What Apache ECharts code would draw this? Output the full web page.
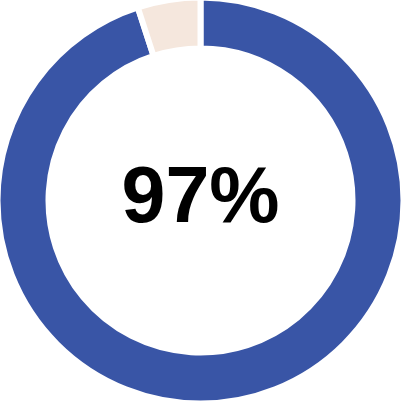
<!DOCTYPE html>
<html>
<head>
<meta charset="utf-8">
<script src="https://cdn.jsdelivr.net/npm/echarts@6/dist/echarts.min.js"></script>
<style>
html,body{margin:0;padding:0;background:#fff;}
#c{width:401px;height:401px;}
</style>
</head>
<body>
<div id="c"></div>
<script>
var categories = ['Filled', 'Remaining'];
var values = [95, 5];
var centerLabel = '97%';

var colors = ['#3955A6', '#F5E7DD'];
var chart = echarts.init(document.getElementById('c'), null, {renderer: 'canvas'});
chart.setOption({
  animation: false,
  title: {
    text: centerLabel,
    left: 'center',
    top: 'middle',
    textStyle: {
      fontFamily: 'Liberation Sans, Arial, sans-serif',
      fontWeight: 'bold',
      fontSize: 79,
      color: '#000'
    }
  },
  series: [{
    type: 'pie',
    center: ['50%', '50%'],
    radius: [152, 203],
    startAngle: 90,
    clockwise: true,
    label: {show: false},
    labelLine: {show: false},
    emphasis: {disabled: true},
    itemStyle: {borderColor: '#fff', borderWidth: 6},
    data: categories.map(function (c, i) {
      return {name: c, value: values[i], itemStyle: {color: colors[i]}};
    })
  }]
});
</script>
</body>
</html>
